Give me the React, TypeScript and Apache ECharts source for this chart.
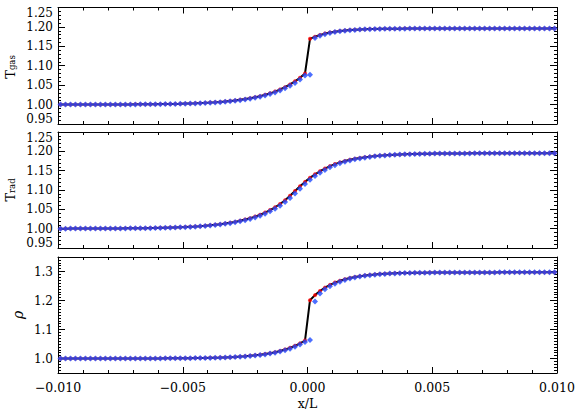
import React, { useEffect, useRef } from "react";
import * as echarts from "echarts";

// x/L positions (cell centres)
const X = [
  -0.0099, -0.0097, -0.0095, -0.0093, -0.0091, -0.0089, -0.0087, -0.0085, -0.0083, -0.0081,
  -0.0079, -0.0077, -0.0075, -0.0073, -0.0071, -0.0069, -0.0067, -0.0065, -0.0063, -0.0061,
  -0.0059, -0.0057, -0.0055, -0.0053, -0.0051, -0.0049, -0.0047, -0.0045, -0.0043, -0.0041,
  -0.0039, -0.0037, -0.0035, -0.0033, -0.0031, -0.0029, -0.0027, -0.0025, -0.0023, -0.0021,
  -0.0019, -0.0017, -0.0015, -0.0013, -0.0011, -0.0009, -0.0007, -0.0005, -0.0003, -0.0001,
  0.0001, 0.0003, 0.0005, 0.0007, 0.0009, 0.0011, 0.0013, 0.0015, 0.0017, 0.0019,
  0.0021, 0.0023, 0.0025, 0.0027, 0.0029, 0.0031, 0.0033, 0.0035, 0.0037, 0.0039,
  0.0041, 0.0043, 0.0045, 0.0047, 0.0049, 0.0051, 0.0053, 0.0055, 0.0057, 0.0059,
  0.0061, 0.0063, 0.0065, 0.0067, 0.0069, 0.0071, 0.0073, 0.0075, 0.0077, 0.0079,
  0.0081, 0.0083, 0.0085, 0.0087, 0.0089, 0.0091, 0.0093, 0.0095, 0.0097, 0.0099,
];

// T_gas: analytic (black line / red dots) and simulation (blue)
const GAS = [
  1.0001, 1.0001, 1.0001, 1.0001, 1.0001, 1.0002, 1.0002, 1.0002, 1.0002, 1.0003,
  1.0003, 1.0003, 1.0004, 1.0004, 1.0005, 1.0006, 1.0007, 1.0008, 1.0009, 1.0010,
  1.0012, 1.0014, 1.0016, 1.0018, 1.0021, 1.0025, 1.0029, 1.0033, 1.0038, 1.0044,
  1.0051, 1.0059, 1.0068, 1.0079, 1.0091, 1.0105, 1.0122, 1.0141, 1.0162, 1.0188,
  1.0217, 1.0251, 1.0290, 1.0335, 1.0388, 1.0448, 1.0518, 1.0599, 1.0692, 1.0800,
  1.1693, 1.1749, 1.1793, 1.1828, 1.1856, 1.1878, 1.1895, 1.1909, 1.1919, 1.1928,
  1.1935, 1.1940, 1.1944, 1.1947, 1.1950, 1.1952, 1.1954, 1.1955, 1.1956, 1.1957,
  1.1958, 1.1958, 1.1958, 1.1958, 1.1958, 1.1959, 1.1959, 1.1959, 1.1959, 1.1959,
  1.1959, 1.1959, 1.1959, 1.1959, 1.1959, 1.1960, 1.1960, 1.1960, 1.1960, 1.1960,
  1.1960, 1.1960, 1.1960, 1.1960, 1.1960, 1.1960, 1.1960, 1.1960, 1.1960, 1.1960,
];
const GAS_SIM = [
  1.0001, 1.0001, 1.0001, 1.0001, 1.0001, 1.0001, 1.0002, 1.0002, 1.0002, 1.0002,
  1.0003, 1.0003, 1.0003, 1.0004, 1.0004, 1.0005, 1.0006, 1.0007, 1.0008, 1.0009,
  1.0011, 1.0013, 1.0015, 1.0017, 1.0019, 1.0023, 1.0027, 1.0031, 1.0035, 1.0041,
  1.0047, 1.0055, 1.0063, 1.0073, 1.0085, 1.0098, 1.0113, 1.0131, 1.0151, 1.0175,
  1.0202, 1.0234, 1.0270, 1.0312, 1.0361, 1.0418, 1.0483, 1.0558, 1.0645, 1.0746,
  1.0770, 1.1715, 1.1771, 1.1810, 1.1842, 1.1867, 1.1886, 1.1902, 1.1914, 1.1923,
  1.1931, 1.1937, 1.1942, 1.1945, 1.1948, 1.1951, 1.1953, 1.1954, 1.1955, 1.1956,
  1.1957, 1.1958, 1.1958, 1.1958, 1.1958, 1.1958, 1.1959, 1.1959, 1.1959, 1.1959,
  1.1959, 1.1959, 1.1959, 1.1959, 1.1959, 1.1959, 1.1960, 1.1960, 1.1960, 1.1960,
  1.1960, 1.1960, 1.1960, 1.1960, 1.1960, 1.1960, 1.1960, 1.1960, 1.1960, 1.1960,
];

// T_rad
const RAD = [
  1.0001, 1.0001, 1.0002, 1.0002, 1.0002, 1.0002, 1.0003, 1.0003, 1.0004, 1.0004,
  1.0005, 1.0006, 1.0007, 1.0008, 1.0009, 1.0010, 1.0012, 1.0013, 1.0016, 1.0018,
  1.0021, 1.0024, 1.0028, 1.0032, 1.0037, 1.0042, 1.0049, 1.0056, 1.0065, 1.0075,
  1.0086, 1.0100, 1.0115, 1.0133, 1.0153, 1.0176, 1.0204, 1.0235, 1.0271, 1.0312,
  1.0360, 1.0416, 1.0480, 1.0553, 1.0638, 1.0736, 1.0849, 1.0972, 1.1095, 1.1210,
  1.1315, 1.1405, 1.1485, 1.1555, 1.1617, 1.1670, 1.1714, 1.1750, 1.1780, 1.1806,
  1.1828, 1.1847, 1.1863, 1.1877, 1.1889, 1.1899, 1.1907, 1.1914, 1.1920, 1.1925,
  1.1929, 1.1933, 1.1936, 1.1938, 1.1940, 1.1942, 1.1943, 1.1944, 1.1945, 1.1946,
  1.1947, 1.1947, 1.1948, 1.1948, 1.1949, 1.1949, 1.1949, 1.1949, 1.1949, 1.1949,
  1.1950, 1.1950, 1.1950, 1.1950, 1.1950, 1.1950, 1.1950, 1.1950, 1.1950, 1.1950,
];
const RAD_SIM = [
  1.0001, 1.0001, 1.0002, 1.0002, 1.0002, 1.0002, 1.0002, 1.0003, 1.0003, 1.0004,
  1.0004, 1.0005, 1.0006, 1.0007, 1.0008, 1.0009, 1.0011, 1.0012, 1.0014, 1.0017,
  1.0019, 1.0022, 1.0026, 1.0030, 1.0034, 1.0039, 1.0045, 1.0052, 1.0060, 1.0070,
  1.0080, 1.0093, 1.0107, 1.0124, 1.0143, 1.0164, 1.0190, 1.0219, 1.0253, 1.0291,
  1.0336, 1.0388, 1.0448, 1.0516, 1.0595, 1.0687, 1.0792, 1.0910, 1.1033, 1.1152,
  1.1262, 1.1360, 1.1445, 1.1520, 1.1586, 1.1643, 1.1692, 1.1732, 1.1765, 1.1793,
  1.1817, 1.1837, 1.1855, 1.1870, 1.1883, 1.1894, 1.1903, 1.1910, 1.1917, 1.1922,
  1.1927, 1.1931, 1.1934, 1.1937, 1.1939, 1.1941, 1.1942, 1.1943, 1.1944, 1.1945,
  1.1946, 1.1947, 1.1947, 1.1948, 1.1948, 1.1949, 1.1949, 1.1949, 1.1949, 1.1949,
  1.1949, 1.1950, 1.1950, 1.1950, 1.1950, 1.1950, 1.1950, 1.1950, 1.1950, 1.1950,
];

// rho
const RHO = [
  1.0000, 1.0000, 1.0000, 1.0000, 1.0000, 1.0000, 1.0000, 1.0000, 1.0000, 1.0001,
  1.0001, 1.0001, 1.0001, 1.0001, 1.0001, 1.0002, 1.0002, 1.0002, 1.0003, 1.0003,
  1.0004, 1.0005, 1.0006, 1.0007, 1.0008, 1.0010, 1.0011, 1.0014, 1.0016, 1.0019,
  1.0023, 1.0027, 1.0032, 1.0038, 1.0046, 1.0054, 1.0065, 1.0077, 1.0092, 1.0109,
  1.0130, 1.0154, 1.0184, 1.0218, 1.0260, 1.0309, 1.0368, 1.0438, 1.0521, 1.0620,
  1.2011, 1.2185, 1.2327, 1.2444, 1.2539, 1.2617, 1.2681, 1.2733, 1.2776, 1.2811,
  1.2840, 1.2864, 1.2883, 1.2899, 1.2912, 1.2922, 1.2931, 1.2938, 1.2944, 1.2949,
  1.2952, 1.2956, 1.2958, 1.2960, 1.2962, 1.2964, 1.2965, 1.2966, 1.2967, 1.2967,
  1.2968, 1.2968, 1.2968, 1.2969, 1.2969, 1.2969, 1.2969, 1.2969, 1.2970, 1.2970,
  1.2970, 1.2970, 1.2970, 1.2970, 1.2970, 1.2970, 1.2970, 1.2970, 1.2970, 1.2970,
];
const RHO_SIM = [
  1.0000, 1.0000, 1.0000, 1.0000, 1.0000, 1.0000, 1.0000, 1.0000, 1.0000, 1.0000,
  1.0001, 1.0001, 1.0001, 1.0001, 1.0001, 1.0002, 1.0002, 1.0002, 1.0003, 1.0003,
  1.0004, 1.0005, 1.0006, 1.0007, 1.0008, 1.0009, 1.0011, 1.0013, 1.0015, 1.0018,
  1.0021, 1.0025, 1.0030, 1.0035, 1.0042, 1.0050, 1.0060, 1.0071, 1.0085, 1.0101,
  1.0120, 1.0142, 1.0169, 1.0201, 1.0239, 1.0285, 1.0339, 1.0403, 1.0480, 1.0571,
  1.0640, 1.1965, 1.2240, 1.2386, 1.2492, 1.2578, 1.2649, 1.2707, 1.2755, 1.2794,
  1.2826, 1.2852, 1.2874, 1.2891, 1.2906, 1.2917, 1.2927, 1.2935, 1.2941, 1.2947,
  1.2951, 1.2954, 1.2957, 1.2959, 1.2961, 1.2963, 1.2965, 1.2966, 1.2967, 1.2967,
  1.2968, 1.2968, 1.2968, 1.2969, 1.2969, 1.2969, 1.2969, 1.2969, 1.2970, 1.2970,
  1.2970, 1.2970, 1.2970, 1.2970, 1.2970, 1.2970, 1.2970, 1.2970, 1.2970, 1.2970,
];

const RHO_TICKS = [1.0, 1.1, 1.2, 1.3];

const FONT = "DejaVu Serif";
const FS = 12;

export default function App() {
  const ref = useRef<HTMLDivElement>(null);
  useEffect(() => {
    document.body.style.margin = "0";
    if (!ref.current) return;
    const chart = echarts.init(ref.current, undefined, { renderer: "svg" });

    const grids = [
      { left: 58, right: 24, top: 7.5, height: 116.5 },
      { left: 58, right: 24, top: 132, height: 116 },
      { left: 58, right: 24, top: 257, height: 116 },
    ];

    const axLine = { show: true, onZero: false, lineStyle: { color: "#000", width: 1 } };
    const majTick = (len: number) => ({ show: true, inside: true, length: len, lineStyle: { color: "#000", width: 1 } });
    const minTick = (n: number) => ({ show: true, splitNumber: n, length: 3, lineStyle: { color: "#000", width: 1 } });

    const xAxis: any[] = [];
    for (let g = 0; g < 3; g++) {
      xAxis.push({
        type: "value", gridIndex: g, position: "bottom", min: -0.01, max: 0.01, interval: 0.005,
        axisLine: axLine, axisTick: majTick(6), minorTick: minTick(5), splitLine: { show: false },
        axisLabel: {
          show: g === 2, color: "#000", fontFamily: FONT, fontSize: 12.5, lineHeight: 12, margin: 8,
          formatter: (v: number) => { const s = Math.abs(v) < 1e-9 ? "0.000" : Math.abs(v).toFixed(3); return v < -1e-9 ? "\u2212" + s : s; },
        },
        name: g === 2 ? "x/L" : "", nameLocation: "middle", nameGap: 24,
        nameTextStyle: { color: "#000", fontFamily: FONT, fontSize: 12.5 },
      });
      xAxis.push({
        type: "value", gridIndex: g, position: "top", min: -0.01, max: 0.01, interval: 0.005,
        axisLine: axLine, axisTick: majTick(6), minorTick: minTick(5), splitLine: { show: false },
        axisLabel: { show: false },
      });
    }

    const yAxis: any[] = [];
    for (let g = 0; g < 2; g++) {
      yAxis.push({
        type: "value", gridIndex: g, position: "left", min: 0.95, max: 1.25, interval: 0.05,
        axisLine: axLine, axisTick: majTick(7), minorTick: minTick(5), splitLine: { show: false },
        axisLabel: {
          color: "#000", fontFamily: FONT, fontSize: FS, lineHeight: 11, margin: 5,
          formatter: (v: number) => v.toFixed(2),
          verticalAlignMinLabel: "bottom", verticalAlignMaxLabel: "top",
        },
      });
      yAxis.push({
        type: "value", gridIndex: g, position: "right", min: 0.95, max: 1.25, interval: 0.05,
        axisLine: axLine, axisTick: majTick(7), minorTick: minTick(5), splitLine: { show: false },
        axisLabel: { show: false },
      });
    }
    // rho panel: major ticks at custom values, minor ticks on overlay axes
    yAxis.push({
      type: "value", gridIndex: 2, position: "left", min: 0.95, max: 1.35,
      axisLine: axLine,
      axisTick: { ...majTick(7), customValues: RHO_TICKS },
      splitLine: { show: false },
      axisLabel: { color: "#000", fontFamily: FONT, fontSize: FS, lineHeight: 11, margin: 5, customValues: RHO_TICKS, formatter: (v: number) => v.toFixed(1) },
    });
    yAxis.push({
      type: "value", gridIndex: 2, position: "right", min: 0.95, max: 1.35,
      axisLine: axLine,
      axisTick: { ...majTick(7), customValues: RHO_TICKS },
      splitLine: { show: false }, axisLabel: { show: false },
    });
    for (const pos of ["left", "right"]) {
      yAxis.push({
        type: "value", gridIndex: 2, position: pos, min: 0.95, max: 1.35, interval: 0.01,
        axisLine: { show: false, onZero: false },
        axisTick: { show: true, inside: true, length: 3, lineStyle: { color: "#000", width: 1 } },
        splitLine: { show: false }, axisLabel: { show: false },
      });
    }

    const panels = [
      { main: GAS, sim: GAS_SIM, x: 0, y: 0 },
      { main: RAD, sim: RAD_SIM, x: 2, y: 2 },
      { main: RHO, sim: RHO_SIM, x: 4, y: 4 },
    ];
    const series: any[] = [];
    panels.forEach((p) => {
      const m = X.map((x, i) => [x, p.main[i]]);
      const s = X.map((x, i) => [x, p.sim[i]]);
      series.push({
        type: "line", xAxisIndex: p.x, yAxisIndex: p.y, data: m, showSymbol: false, symbol: "none",
        lineStyle: { color: "#000", width: 2 }, silent: true, z: 2,
      });
      series.push({
        type: "scatter", xAxisIndex: p.x, yAxisIndex: p.y, data: m, symbol: "circle", symbolSize: 4,
        itemStyle: { color: "#ff0000" }, silent: true, z: 3,
      });
      series.push({
        type: "scatter", xAxisIndex: p.x, yAxisIndex: p.y, data: s, symbol: "diamond", symbolSize: 6,
        itemStyle: { color: "#1f4bff" }, silent: true, z: 4,
      });
    });

    const rich = {
      t: { fontSize: 13, fontFamily: FONT, fill: "#000", lineHeight: 13, verticalAlign: "top" },
      s: { fontSize: 8.5, fontFamily: FONT, fill: "#000", lineHeight: 8, verticalAlign: "bottom", padding: [7, 0, 0, 0] },
    };
    const graphic = [
      {
        type: "text", x: 10, y: 67, rotation: Math.PI / 2,
        style: { text: "{t|T}{s|gas}", rich, align: "center", verticalAlign: "middle" },
      },
      {
        type: "text", x: 10, y: 190, rotation: Math.PI / 2,
        style: { text: "{t|T}{s|rad}", rich, align: "center", verticalAlign: "middle" },
      },
      {
        type: "text", x: 18, y: 315, rotation: Math.PI / 2,
        style: { text: "\u03c1", fill: "#000", fontFamily: FONT, fontSize: 14, fontStyle: "italic", align: "center", verticalAlign: "middle" },
      },
    ];

    chart.setOption({
      animation: false,
      backgroundColor: "#fff",
      textStyle: { fontFamily: FONT },
      grid: grids,
      xAxis,
      yAxis,
      series,
      graphic,
    });
    return () => chart.dispose();
  }, []);
  return <div ref={ref} style={{ width: 581, height: 415 }} />;
}
